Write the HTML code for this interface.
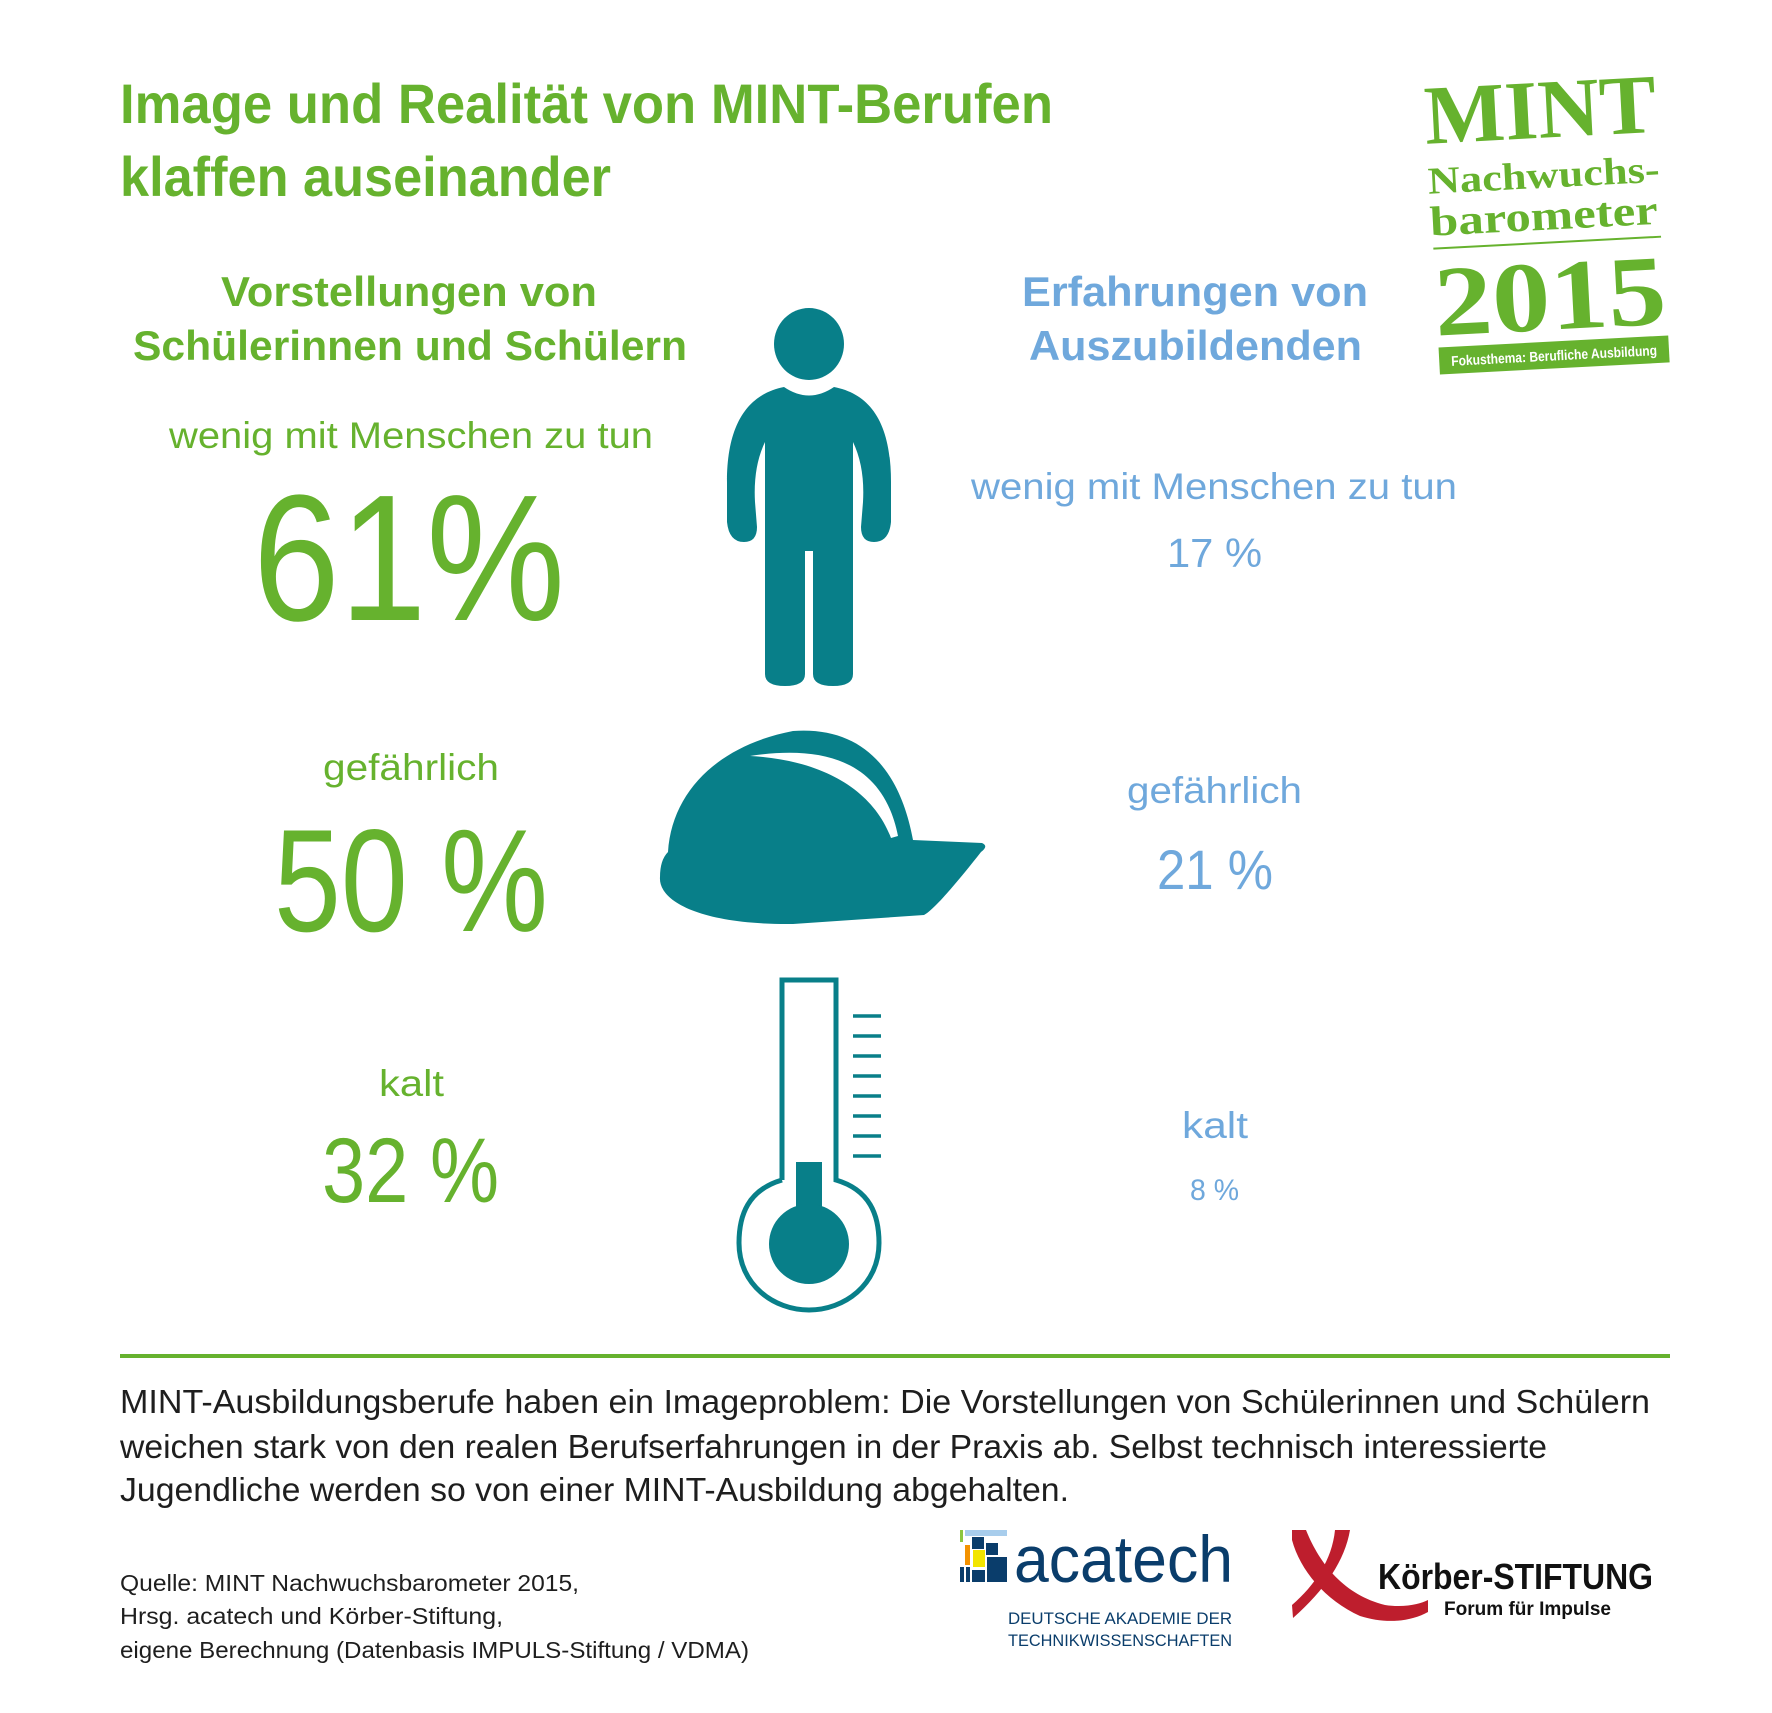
<!DOCTYPE html>
<html><head><meta charset="utf-8"><style>html,body{margin:0;padding:0;background:#fff}svg{display:block}</style></head>
<body>
<svg width="1772" height="1713" viewBox="0 0 1772 1713" xmlns="http://www.w3.org/2000/svg" font-family="Liberation Sans, sans-serif">
<rect width="1772" height="1713" fill="#fff"/>
<g fill="#66b22e">
<text x="120" y="123" font-size="56" font-weight="bold" textLength="933" lengthAdjust="spacingAndGlyphs">Image und Realität von MINT-Berufen</text>
<text x="120" y="196" font-size="56" font-weight="bold" textLength="491" lengthAdjust="spacingAndGlyphs">klaffen auseinander</text>
<text x="221" y="306" font-size="42" font-weight="bold" textLength="376" lengthAdjust="spacingAndGlyphs">Vorstellungen von</text>
<text x="133" y="360" font-size="42" font-weight="bold" textLength="554" lengthAdjust="spacingAndGlyphs">Schülerinnen und Schülern</text>
<text x="169" y="448" font-size="37" textLength="484" lengthAdjust="spacingAndGlyphs">wenig mit Menschen zu tun</text>
<text x="253" y="620" font-size="180" textLength="312" lengthAdjust="spacingAndGlyphs">61%</text>
<text x="323" y="780" font-size="37" textLength="176" lengthAdjust="spacingAndGlyphs">gefährlich</text>
<text x="274" y="931" font-size="146" textLength="274" lengthAdjust="spacingAndGlyphs">50 %</text>
<text x="379" y="1096" font-size="37" textLength="65" lengthAdjust="spacingAndGlyphs">kalt</text>
<text x="322" y="1202" font-size="92" textLength="177" lengthAdjust="spacingAndGlyphs">32 %</text>
</g>
<g fill="#6fa8dc">
<text x="1022" y="306" font-size="42" font-weight="bold" textLength="346" lengthAdjust="spacingAndGlyphs">Erfahrungen von</text>
<text x="1029" y="360" font-size="42" font-weight="bold" textLength="333" lengthAdjust="spacingAndGlyphs">Auszubildenden</text>
<text x="971" y="499" font-size="37" textLength="486" lengthAdjust="spacingAndGlyphs">wenig mit Menschen zu tun</text>
<text x="1167" y="567" font-size="41" textLength="95" lengthAdjust="spacingAndGlyphs">17 %</text>
<text x="1127" y="803" font-size="37" textLength="175" lengthAdjust="spacingAndGlyphs">gefährlich</text>
<text x="1157" y="889" font-size="56" textLength="116" lengthAdjust="spacingAndGlyphs">21 %</text>
<text x="1182" y="1138" font-size="37" textLength="66" lengthAdjust="spacingAndGlyphs">kalt</text>
<text x="1190" y="1200" font-size="30" textLength="49" lengthAdjust="spacingAndGlyphs">8 %</text>
</g>
<g fill="#087f89" transform="translate(-6 0)">
<ellipse cx="815" cy="344" rx="35" ry="36"/>
<path d="M 790 387 Q 815 404 840 387 C 876 394 897 422 897 482 L 897 522 Q 895 542 880 542 Q 867 542 867 527 L 869 502 Q 871 467 859 442 L 859 674 Q 859 686 839 686 Q 819 686 819 674 L 819 551 L 811 551 L 811 674 Q 811 686 791 686 Q 771 686 771 674 L 771 442 Q 759 467 761 502 L 763 527 Q 763 542 750 542 Q 735 542 733 522 L 733 482 C 733 422 755 394 790 387 Z"/>
</g>
<g fill="#087f89">
<path d="M 668 852 C 672 790 720 745 793 731 C 863 726 900 770 913 840 L 982 843 Q 989 846 981 852 C 959 880 934 910 924 915 L 793 924 C 703 925 658 902 660 877 Q 660 860 668 852 Z"/>
</g>
<path d="M 750 756 C 823 745 883 760 898 836 L 891 838 C 873 790 823 760 750 756 Z" fill="#fff"/>
<g stroke="#087f89" stroke-width="5" fill="none" transform="translate(-6 0)">
<path d="M 788 1180 L 788 980 L 842 980 L 842 1180 C 876 1190 885 1215 885 1243 C 885 1285 850 1310 815 1310 C 780 1310 745 1285 745 1243 C 745 1215 754 1190 788 1180"/>
</g>
<g fill="#087f89" transform="translate(-6 0)">
<rect x="802" y="1162" width="26" height="50"/>
<ellipse cx="815" cy="1244" rx="40" ry="40"/>
</g>
<g stroke="#087f89" stroke-width="3.5" transform="translate(-6 0)">
<line x1="859" y1="1016" x2="887" y2="1016"/><line x1="859" y1="1036" x2="887" y2="1036"/>
<line x1="859" y1="1056" x2="887" y2="1056"/><line x1="859" y1="1076" x2="887" y2="1076"/>
<line x1="859" y1="1096" x2="887" y2="1096"/><line x1="859" y1="1116" x2="887" y2="1116"/>
<line x1="859" y1="1136" x2="887" y2="1136"/><line x1="859" y1="1156" x2="887" y2="1156"/>
</g>
<g transform="rotate(-3 1540 220)" fill="#66b22e" font-family="Liberation Serif, serif" font-weight="bold">
<text x="1430" y="138" font-size="84" textLength="232" lengthAdjust="spacingAndGlyphs">MINT</text>
<text x="1430" y="188" font-size="38" textLength="232" lengthAdjust="spacingAndGlyphs">Nachwuchs-</text>
<text x="1430" y="230" font-size="42" textLength="228" lengthAdjust="spacingAndGlyphs">barometer</text>
<rect x="1432" y="242" width="228" height="2"/>
<text x="1430" y="330" font-size="100" textLength="232" lengthAdjust="spacingAndGlyphs">2015</text>
<rect x="1432" y="342" width="230" height="27"/>
<text x="1444" y="361" font-size="14" fill="#fff" font-family="Liberation Sans, sans-serif" textLength="206" lengthAdjust="spacingAndGlyphs">Fokusthema: Berufliche Ausbildung</text>
</g>
<rect x="120" y="1354" width="1550" height="4" fill="#66b22e"/>
<g fill="#1e1e1e" font-size="33">
<text x="120" y="1413" textLength="1530" lengthAdjust="spacingAndGlyphs">MINT-Ausbildungsberufe haben ein Imageproblem: Die Vorstellungen von Schülerinnen und Schülern</text>
<text x="120" y="1458" textLength="1427" lengthAdjust="spacingAndGlyphs">weichen stark von den realen Berufserfahrungen in der Praxis ab. Selbst technisch interessierte</text>
<text x="120" y="1501" textLength="949" lengthAdjust="spacingAndGlyphs">Jugendliche werden so von einer MINT-Ausbildung abgehalten.</text>
</g>
<g fill="#1e1e1e" font-size="23">
<text x="120" y="1591" textLength="459" lengthAdjust="spacingAndGlyphs">Quelle: MINT Nachwuchsbarometer 2015,</text>
<text x="120" y="1624" textLength="383" lengthAdjust="spacingAndGlyphs">Hrsg. acatech und Körber-Stiftung,</text>
<text x="120" y="1658" textLength="629" lengthAdjust="spacingAndGlyphs">eigene Berechnung (Datenbasis IMPULS-Stiftung / VDMA)</text>
</g>
<g>
<rect x="960" y="1530" width="3" height="12" fill="#8cc63f"/>
<rect x="965" y="1530" width="42" height="6" fill="#a8cdec"/>
<rect x="972" y="1537" width="12" height="12" fill="#0a3d6b"/>
<rect x="986" y="1543" width="12" height="12" fill="#0a3d6b"/>
<rect x="965" y="1545" width="5" height="20" fill="#f39200"/>
<rect x="973" y="1550" width="12" height="17" fill="#f2e500"/>
<rect x="960" y="1567" width="4" height="15" fill="#0a3d6b"/>
<rect x="966" y="1567" width="4" height="15" fill="#0a3d6b"/>
<rect x="987" y="1557" width="20" height="25" fill="#0a3d6b"/>
<rect x="972" y="1570" width="13" height="12" fill="#0a3d6b"/>
<text x="1014" y="1582" font-size="66" fill="#0a3d6b" textLength="219" lengthAdjust="spacingAndGlyphs">acatech</text>
<text x="1008" y="1624" font-size="17" fill="#0a3d6b" textLength="224" lengthAdjust="spacingAndGlyphs">DEUTSCHE AKADEMIE DER</text>
<text x="1008" y="1646" font-size="17" fill="#0a3d6b" textLength="224" lengthAdjust="spacingAndGlyphs">TECHNIKWISSENSCHAFTEN</text>
</g>
<g fill="#be1e2d">
<path d="M 1292 1530 L 1306 1530 C 1320 1565 1345 1595 1385 1605 C 1405 1608 1420 1604 1428 1600 L 1428 1612 C 1410 1622 1385 1624 1360 1616 C 1325 1600 1300 1570 1292 1540 Z"/>
<path d="M 1335 1530 L 1350 1530 C 1345 1560 1325 1590 1293 1618 L 1292 1605 C 1315 1585 1332 1560 1335 1530 Z"/>
</g>
<text x="1378" y="1589" font-size="36" fill="#111" font-weight="bold" textLength="275" lengthAdjust="spacingAndGlyphs">Körber-STIFTUNG</text>
<text x="1444" y="1615" font-size="19" fill="#111" font-weight="bold" textLength="167" lengthAdjust="spacingAndGlyphs">Forum für Impulse</text>
</svg>
</body></html>
